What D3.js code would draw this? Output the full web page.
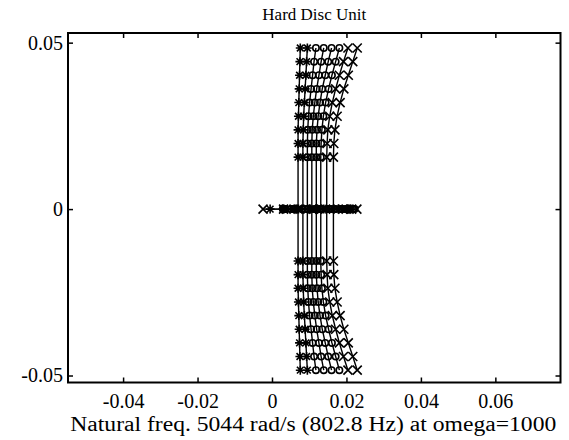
<!DOCTYPE html>
<html>
<head>
<meta charset="utf-8">
<script src="https://cdn.jsdelivr.net/npm/d3@7"></script>
<style>
  body { margin: 0; background: #fff; }
  text { font-family: "Liberation Serif", "DejaVu Serif", serif; fill: #000; }
</style>
</head>
<body>
<div id="chart"></div>
<script>
// Section 1: Data
// ===========================

// imaginary parts of the complex eigenvalue rows (upper half, conjugates mirrored below)
var rowsY = [0.0156, 0.0197, 0.0238, 0.0279, 0.0320, 0.0361, 0.0402, 0.0443, 0.0484];

// real parts per parameter step, one value per row above
var colsX = [
  [0.0070, 0.0070, 0.0070, 0.0071, 0.0072, 0.0073, 0.0074, 0.0075, 0.0076],
  [0.0083, 0.0083, 0.0084, 0.0085, 0.0087, 0.0089, 0.0091, 0.0093, 0.0095],
  [0.0095, 0.0095, 0.0096, 0.0098, 0.0101, 0.0105, 0.0109, 0.0113, 0.0118],
  [0.0107, 0.0107, 0.0108, 0.0111, 0.0115, 0.0120, 0.0126, 0.0132, 0.0139],
  [0.0119, 0.0119, 0.0121, 0.0124, 0.0129, 0.0135, 0.0143, 0.0151, 0.0160],
  [0.0131, 0.0132, 0.0134, 0.0138, 0.0144, 0.0152, 0.0161, 0.0171, 0.0181],
  [0.0147, 0.0148, 0.0150, 0.0155, 0.0162, 0.0171, 0.0181, 0.0192, 0.0204],
  [0.0165, 0.0166, 0.0169, 0.0175, 0.0183, 0.0193, 0.0205, 0.0217, 0.0229]
];

// real eigenvalues (on the axis) per parameter step
var realX = [
  [-0.0005, 0.0032, 0.0071, 0.0118, 0.0165, 0.0205],
  [0.0030, 0.0068, 0.0102, 0.0139, 0.0178, 0.0212],
  [0.0034, 0.0061, 0.0095, 0.0128, 0.0160, 0.0196],
  [0.0029, 0.0057, 0.0088, 0.0121, 0.0152, 0.0188, 0.0219],
  [0.0036, 0.0064, 0.0098, 0.0133, 0.0171, 0.0207],
  [0.0031, 0.0052, 0.0082, 0.0114, 0.0147, 0.0183, 0.0222],
  [0.0038, 0.0070, 0.0107, 0.0144, 0.0190, 0.0214],
  [-0.0024, 0.0031, 0.0075, 0.0112, 0.0156, 0.0199, 0.0228]
];

// marker used for each parameter step
var markers = ["*", "*", "o", "o", "o", "o", "x", "x"];

var xTicks = [-0.04, -0.02, 0, 0.02, 0.04, 0.06];
var yTicks = [-0.05, 0, 0.05];

var titleText = "Hard Disc Unit";
var xLabelText = "Natural freq. 5044 rad/s (802.8 Hz) at omega=1000";

// Section 2: Canvas
// ===========================
var width = 569;
var height = 440;
var plotLeft = 68, plotRight = 560.5, plotTop = 33, plotBottom = 382.5;

var svg = d3
  .select("#chart")
  .append("svg")
  .attr("width", width)
  .attr("height", height);

var xScale = d3.scaleLinear().domain([-0.0548, 0.0775]).range([plotLeft, plotRight]);
var yScale = d3.scaleLinear().domain([-0.0521, 0.0529]).range([plotBottom, plotTop]);

function fmt(v) {
  return v === 0 ? "0" : d3.format(".2f")(v).replace("\u2212", "-");
}

// Section 3: Axes (ticks inside, on all four sides)
// ===========================
var tickLen = 5;
var axes = svg.append("g");

axes.append("g")
  .attr("transform", "translate(0," + plotBottom + ")")
  .call(d3.axisBottom(xScale).tickValues(xTicks).tickSize(-tickLen).tickPadding(11).tickFormat(fmt));
axes.append("g")
  .attr("transform", "translate(0," + plotTop + ")")
  .call(d3.axisTop(xScale).tickValues(xTicks).tickSize(-tickLen).tickFormat(""));
axes.append("g")
  .attr("transform", "translate(" + plotLeft + ",0)")
  .call(d3.axisLeft(yScale).tickValues(yTicks).tickSize(-tickLen).tickPadding(5).tickFormat(fmt));
axes.append("g")
  .attr("transform", "translate(" + plotRight + ",0)")
  .call(d3.axisRight(yScale).tickValues(yTicks).tickSize(-tickLen).tickFormat(""));

axes.selectAll(".domain").remove();
axes.selectAll(".tick line").attr("stroke", "#000").attr("stroke-width", 1.5);
axes.selectAll(".tick text")
  .style("font-size", "20px")
  .attr("fill", "#000")
  .attr("font-family", "Liberation Serif");

svg.append("rect")
  .attr("x", plotLeft)
  .attr("y", plotTop)
  .attr("width", plotRight - plotLeft)
  .attr("height", plotBottom - plotTop)
  .attr("fill", "none")
  .attr("stroke", "#000")
  .attr("stroke-width", 2);

// Section 4: Loci
// ===========================
var plot = svg.append("g");
var line = d3.line()
  .x(function(d) { return xScale(d[0]); })
  .y(function(d) { return yScale(d[1]); });

function drawMarker(g, type, px, py) {
  var r = 4.5;
  var path;
  if (type === "o") {
    g.append("circle").attr("cx", px).attr("cy", py).attr("r", 3.2)
      .attr("fill", "none").attr("stroke", "#000").attr("stroke-width", 1.6);
    return;
  }
  if (type === "x") {
    path = "M" + (px - r) + "," + (py - r) + "L" + (px + r) + "," + (py + r) +
      "M" + (px - r) + "," + (py + r) + "L" + (px + r) + "," + (py - r);
  }
  else {
    var d = r * 0.75;
    path = "M" + (px - r) + "," + py + "L" + (px + r) + "," + py +
      "M" + px + "," + (py - r) + "L" + px + "," + (py + r) +
      "M" + (px - d) + "," + (py - d) + "L" + (px + d) + "," + (py + d) +
      "M" + (px - d) + "," + (py + d) + "L" + (px + d) + "," + (py - d);
  }
  g.append("path").attr("d", path).attr("stroke", "#000").attr("stroke-width", 1.6).attr("fill", "none");
}

colsX.forEach(function(col, c) {
  // upper branch top -> down, then conjugate branch down to the bottom
  var pts = [];
  for (var i = rowsY.length - 1; i >= 0; i--) pts.push([col[i], rowsY[i]]);
  for (var j = 0; j < rowsY.length; j++) pts.push([col[j], -rowsY[j]]);
  var realPts = realX[c].map(function(v) { return [v, 0]; });

  plot.append("path").attr("d", line(pts))
    .attr("fill", "none").attr("stroke", "#000").attr("stroke-width", 1.4);
  plot.append("path").attr("d", line(realPts))
    .attr("fill", "none").attr("stroke", "#000").attr("stroke-width", 1.4);

  pts.concat(realPts).forEach(function(p) {
    drawMarker(plot, markers[c], xScale(p[0]), yScale(p[1]));
  });
});

// Section 5: Labels
// ===========================
svg.append("text")
  .attr("x", (plotLeft + plotRight) / 2)
  .attr("y", 20)
  .attr("text-anchor", "middle")
  .style("font-size", "17px")
  .text(titleText);

svg.append("text")
  .attr("x", (plotLeft + plotRight) / 2 - 1)
  .attr("y", 431)
  .attr("text-anchor", "middle")
  .attr("textLength", 486)
  .attr("lengthAdjust", "spacingAndGlyphs")
  .style("font-size", "20px")
  .text(xLabelText);
</script>
</body>
</html>
